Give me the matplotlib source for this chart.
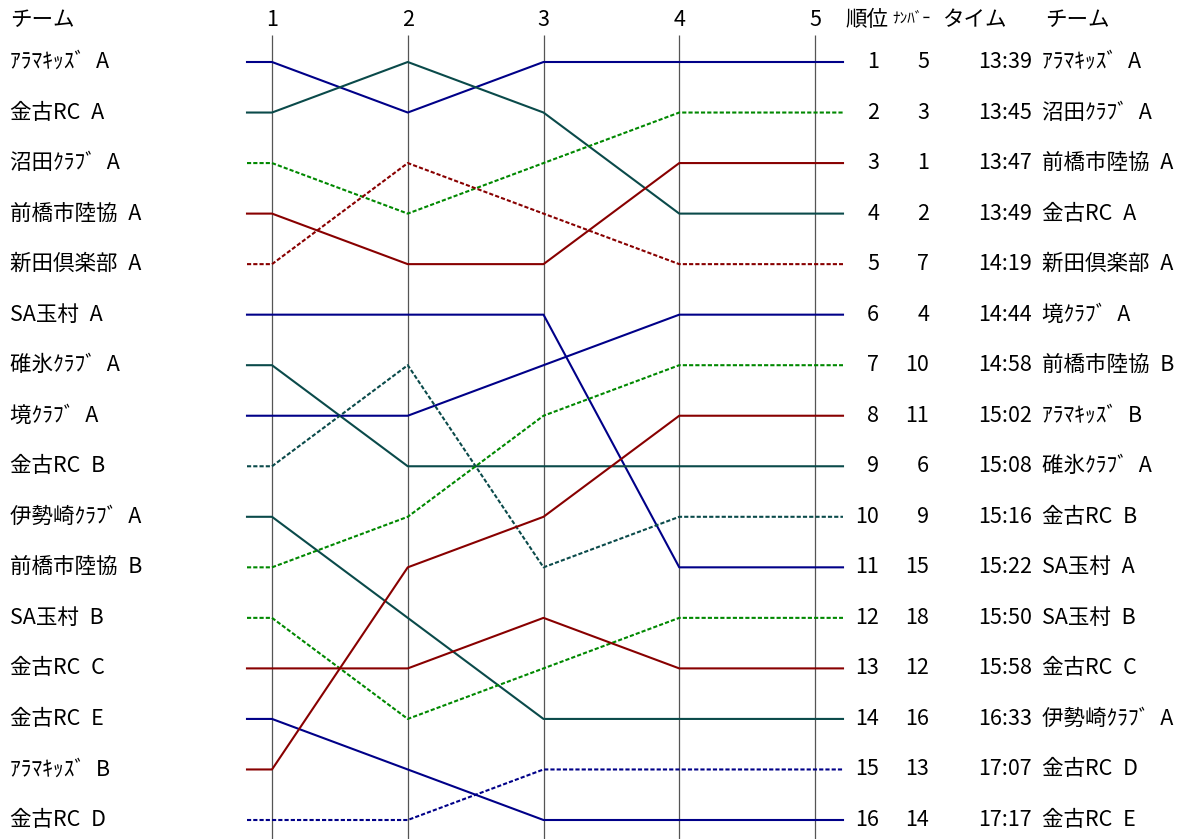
import matplotlib
matplotlib.use("Agg")
import matplotlib.pyplot as plt
import numpy as np

plt.rcParams['font.family'] = ['Noto Sans CJK JP', 'DejaVu Sans']

# --- data ---
legs = [1, 2, 3, 4, 5]
teams = ["ｱﾗﾏｷｯｽﾞ A", "金古RC A", "沼田ｸﾗﾌﾞ A", "前橋市陸協 A", "新田倶楽部 A",
         "SA玉村 A", "碓氷ｸﾗﾌﾞ A", "境ｸﾗﾌﾞ A", "金古RC B", "伊勢崎ｸﾗﾌﾞ A",
         "前橋市陸協 B", "SA玉村 B", "金古RC C", "金古RC E", "ｱﾗﾏｷｯｽﾞ B", "金古RC D"]
# rank after each leg, one row per team
ranks = [
    [1, 2, 1, 1, 1],
    [2, 1, 2, 4, 4],
    [3, 4, 3, 2, 2],
    [4, 5, 5, 3, 3],
    [5, 3, 4, 5, 5],
    [6, 6, 6, 11, 11],
    [7, 9, 9, 9, 9],
    [8, 8, 7, 6, 6],
    [9, 7, 11, 10, 10],
    [10, 12, 14, 14, 14],
    [11, 10, 8, 7, 7],
    [12, 14, 13, 12, 12],
    [13, 13, 12, 13, 13],
    [14, 15, 16, 16, 16],
    [15, 11, 10, 8, 8],
    [16, 16, 15, 15, 15],
]
bib_numbers = [5, 3, 1, 2, 7, 4, 10, 11, 6, 9, 15, 18, 12, 16, 13, 14]
finish_times = ["13:39", "13:45", "13:47", "13:49", "14:19", "14:44", "14:58", "15:02",
                "15:08", "15:16", "15:22", "15:50", "15:58", "16:33", "17:07", "17:17"]

# --- styles ---
NAVY, TEAL, GREEN, RED = "#000088", "#0a4a4a", "#008800", "#880000"
colors = [NAVY, TEAL, GREEN, RED, RED, NAVY, TEAL, NAVY, TEAL, TEAL,
          GREEN, GREEN, RED, NAVY, RED, NAVY]
dashed = [False, False, True, False, True, False, False, False, True, False,
          True, True, False, False, False, True]

W, H = 1179, 839
fig = plt.figure(figsize=(W / 100, H / 100), dpi=100)
ax = fig.add_axes([0, 0, 1, 1])

# pixel layout -> data coords (leg 1 at x=272px, leg 5 at 815px; rank 1 at y=62px, rank 16 at 820px)
px_leg = (815 - 272) / 4
px_rank = (820 - 62) / 15
def dx(px):
    return 1 + (px - 272) / px_leg
def dy(py):
    return 1 + (py - 62) / px_rank

ax.set_xlim(dx(0), dx(W))
ax.set_ylim(dy(H), dy(0))
ax.axis("off")

def label(s):
    # half-width space like the original monospaced font
    return s.replace(" ", "\u2002")

# leg grid lines
ax.vlines(legs, dy(35), dy(H), color="#555555", lw=0.9, zorder=1)

fs = 15.5
for i, team in enumerate(teams):
    r = ranks[i]
    xs = [dx(247)] + legs + [dx(843)]
    ys = [r[0]] + r + [r[-1]]
    ls = (0, (2, 1)) if dashed[i] else "-"
    ax.plot(xs, ys, color=colors[i], lw=1.5, linestyle=ls, zorder=2)
    ax.text(dx(10), i + 1, label(team), fontsize=fs, va="center", ha="left")

# headers
hy = dy(20)
ax.text(dx(10), hy, "チーム", fontsize=fs, va="center", ha="left")
for lg in legs:
    ax.text(lg, hy, str(lg), fontsize=fs, va="center", ha="center")
ax.text(dx(845), hy, "順位", fontsize=fs, va="center", ha="left")
ax.text(dx(892), dy(18), "ﾅﾝﾊﾞｰ", fontsize=11, va="center", ha="left")
ax.text(dx(942), hy, "タイム", fontsize=fs, va="center", ha="left")
ax.text(dx(1045), hy, "チーム", fontsize=fs, va="center", ha="left")

# final standings table
final_order = np.argsort([r[-1] for r in ranks])
for pos, ti in enumerate(final_order):
    y = pos + 1
    ax.text(dx(879), y, str(y), fontsize=fs, va="center", ha="right")
    ax.text(dx(929), y, str(bib_numbers[pos]), fontsize=fs, va="center", ha="right")
    ax.text(dx(1032), y, finish_times[pos], fontsize=fs, va="center", ha="right")
    ax.text(dx(1042), y, label(teams[ti]), fontsize=fs, va="center", ha="left")

fig.savefig("out.png", dpi=100, facecolor="white")
